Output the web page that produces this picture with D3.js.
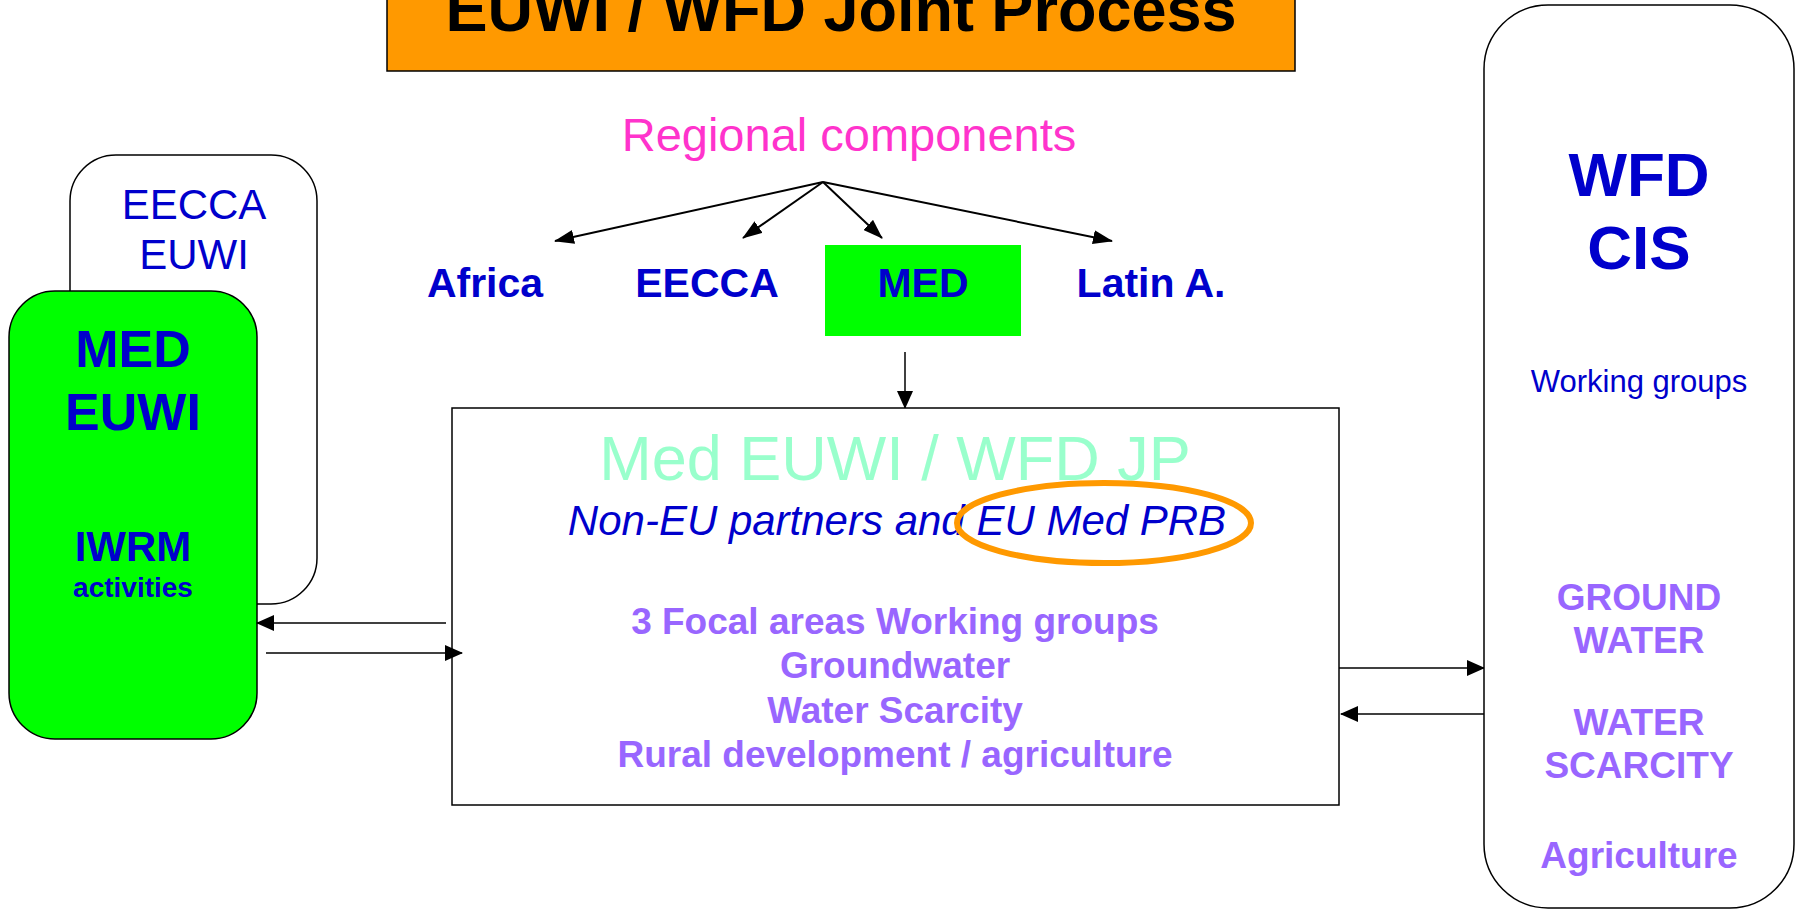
<!DOCTYPE html>
<html>
<head>
<meta charset="utf-8">
<script src="https://cdn.jsdelivr.net/npm/d3@7"></script>
<style>
  html, body { margin: 0; padding: 0; background: #fff; }
  text { font-family: "Liberation Sans", Arial, sans-serif; }
</style>
</head>
<body>
<div id="diagram"></div>
<script>
var svgWidth = 1797;
var svgHeight = 910;

// texts of the diagram
var titleText = 'EUWI / WFD Joint Process';
var regionalTitle = 'Regional components';
var regions = ['Africa', 'EECCA', 'MED', 'Latin A.'];
var highlightRegion = 'MED';
var backBoxLines = ['EECCA', 'EUWI'];
var medBoxLines = ['MED', 'EUWI'];
var medBoxSub = ['IWRM', 'activities'];
var jpTitle = 'Med EUWI / WFD JP';
var jpPartners = ['Non-EU partners and ', 'EU Med PRB'];
var focalAreas = ['3 Focal areas Working groups', 'Groundwater', 'Water Scarcity', 'Rural development / agriculture'];
var wfdTitle = ['WFD', 'CIS'];
var wfdSub = 'Working groups';
var wfdGroups = [['GROUND', 'WATER'], ['WATER', 'SCARCITY'], ['Agriculture']];

var blue = '#0000cc';
var purple = '#9966ff';

var svg = d3.select('#diagram')
    .append('svg')
    .attr('width', svgWidth)
    .attr('height', svgHeight);

svg.append('rect')
    .attr('width', svgWidth)
    .attr('height', svgHeight)
    .attr('fill', '#fff');

// arrow heads
var defs = svg.append('defs');
defs.append('marker')
    .attr('id', 'head')
    .attr('markerUnits', 'userSpaceOnUse')
    .attr('markerWidth', 20)
    .attr('markerHeight', 14)
    .attr('refX', 19)
    .attr('refY', 7)
    .attr('orient', 'auto')
    .append('path')
    .attr('d', 'M0,0 L20,7 L0,14 Z')
    .attr('fill', '#000');

defs.append('marker')
    .attr('id', 'headSmall')
    .attr('markerUnits', 'userSpaceOnUse')
    .attr('markerWidth', 18)
    .attr('markerHeight', 16)
    .attr('refX', 17)
    .attr('refY', 8)
    .attr('orient', 'auto')
    .append('path')
    .attr('d', 'M0,0 L18,8 L0,16 Z')
    .attr('fill', '#000');

// title box
svg.append('rect')
    .attr('x', 387).attr('y', -10)
    .attr('width', 908).attr('height', 81)
    .attr('fill', '#ff9900')
    .attr('stroke', '#000')
    .attr('stroke-width', 1.5);

svg.append('text')
    .attr('x', 841).attr('y', 31)
    .attr('text-anchor', 'middle')
    .attr('font-size', 63)
    .attr('font-weight', 'bold')
    .attr('fill', '#000')
    .text(titleText);

// EECCA EUWI back box
svg.append('rect')
    .attr('x', 70).attr('y', 155)
    .attr('width', 247).attr('height', 449)
    .attr('rx', 46).attr('ry', 46)
    .attr('fill', '#fff')
    .attr('stroke', '#000')
    .attr('stroke-width', 1.5);

svg.selectAll('.backText')
    .data(backBoxLines)
    .enter()
    .append('text')
    .classed('backText', true)
    .attr('x', 194)
    .attr('y', (d, i) => 219 + i * 50)
    .attr('text-anchor', 'middle')
    .attr('font-size', 42)
    .attr('fill', blue)
    .text(d => d);

// MED EUWI green box
svg.append('rect')
    .attr('x', 9).attr('y', 291)
    .attr('width', 248).attr('height', 448)
    .attr('rx', 46).attr('ry', 46)
    .attr('fill', '#00ff00')
    .attr('stroke', '#000')
    .attr('stroke-width', 1.5);

svg.selectAll('.medText')
    .data(medBoxLines)
    .enter()
    .append('text')
    .classed('medText', true)
    .attr('x', 133)
    .attr('y', (d, i) => 367 + i * 63)
    .attr('text-anchor', 'middle')
    .attr('font-size', 52)
    .attr('font-weight', 'bold')
    .attr('fill', blue)
    .text(d => d);

svg.selectAll('.medSub')
    .data(medBoxSub)
    .enter()
    .append('text')
    .classed('medSub', true)
    .attr('x', 133)
    .attr('y', (d, i) => i === 0 ? 561 : 597)
    .attr('text-anchor', 'middle')
    .attr('font-size', (d, i) => i === 0 ? 42 : 28)
    .attr('font-weight', 'bold')
    .attr('fill', blue)
    .text(d => d);

// regional components
svg.append('text')
    .attr('x', 849).attr('y', 151)
    .attr('text-anchor', 'middle')
    .attr('font-size', 47)
    .attr('fill', '#ff33cc')
    .text(regionalTitle);

var xRegion = d3.scalePoint()
    .domain(regions)
    .range([485, 1151]);

// arrow tips sit above the labels, fanned out from one origin
var tipX = d3.scalePoint()
    .domain(regions)
    .range([555, 1112]);

var fanOrigin = [823, 182];

// green highlight behind the MED label
svg.append('rect')
    .attr('x', 825)
    .attr('y', 245)
    .attr('width', 196).attr('height', 91)
    .attr('fill', '#00ff00');

svg.selectAll('.fan')
    .data(regions)
    .enter()
    .append('line')
    .classed('fan', true)
    .attr('x1', fanOrigin[0])
    .attr('y1', fanOrigin[1])
    .attr('x2', (d, i) => i === 0 || i === 3 ? tipX(d) : (i === 1 ? 743 : 882))
    .attr('y2', (d, i) => i === 0 || i === 3 ? 241 : 238)
    .attr('stroke', '#000')
    .attr('stroke-width', 2)
    .attr('marker-end', 'url(#head)');

svg.selectAll('.region')
    .data(regions)
    .enter()
    .append('text')
    .classed('region', true)
    .attr('x', d => d === highlightRegion ? 923 : xRegion(d))
    .attr('y', 297)
    .attr('text-anchor', 'middle')
    .attr('font-size', 41)
    .attr('font-weight', 'bold')
    .attr('fill', blue)
    .text(d => d);

// MED -> joint process
svg.append('line')
    .attr('x1', 905).attr('y1', 352)
    .attr('x2', 905).attr('y2', 408)
    .attr('stroke', '#000')
    .attr('stroke-width', 1.5)
    .attr('marker-end', 'url(#headSmall)');

// central box
svg.append('rect')
    .attr('x', 452).attr('y', 408)
    .attr('width', 887).attr('height', 397)
    .attr('fill', '#fff')
    .attr('stroke', '#000')
    .attr('stroke-width', 1.5);

svg.append('text')
    .attr('x', 895).attr('y', 480)
    .attr('text-anchor', 'middle')
    .attr('font-size', 63)
    .attr('fill', '#99ffcc')
    .text(jpTitle);

var partners = svg.append('text')
    .attr('x', 897).attr('y', 535)
    .attr('text-anchor', 'middle')
    .attr('font-size', 42)
    .attr('font-style', 'italic')
    .attr('fill', blue);

partners.selectAll('tspan')
    .data(jpPartners)
    .enter()
    .append('tspan')
    .text(d => d);

svg.append('ellipse')
    .attr('cx', 1104).attr('cy', 523)
    .attr('rx', 147).attr('ry', 40)
    .attr('fill', 'none')
    .attr('stroke', '#ff9900')
    .attr('stroke-width', 6);

var yFocal = d3.scaleLinear()
    .domain([0, focalAreas.length - 1])
    .range([634, 767]);

svg.selectAll('.focal')
    .data(focalAreas)
    .enter()
    .append('text')
    .classed('focal', true)
    .attr('x', 895)
    .attr('y', (d, i) => yFocal(i))
    .attr('text-anchor', 'middle')
    .attr('font-size', 37)
    .attr('font-weight', 'bold')
    .attr('fill', purple)
    .text(d => d);

// left exchange arrows
svg.append('line')
    .attr('x1', 446).attr('y1', 623)
    .attr('x2', 257).attr('y2', 623)
    .attr('stroke', '#000')
    .attr('stroke-width', 1.5)
    .attr('marker-end', 'url(#headSmall)');

svg.append('line')
    .attr('x1', 266).attr('y1', 653)
    .attr('x2', 462).attr('y2', 653)
    .attr('stroke', '#000')
    .attr('stroke-width', 1.5)
    .attr('marker-end', 'url(#headSmall)');

// right exchange arrows
svg.append('line')
    .attr('x1', 1339).attr('y1', 668)
    .attr('x2', 1484).attr('y2', 668)
    .attr('stroke', '#000')
    .attr('stroke-width', 1.5)
    .attr('marker-end', 'url(#headSmall)');

svg.append('line')
    .attr('x1', 1484).attr('y1', 714)
    .attr('x2', 1341).attr('y2', 714)
    .attr('stroke', '#000')
    .attr('stroke-width', 1.5)
    .attr('marker-end', 'url(#headSmall)');

// WFD CIS box
svg.append('rect')
    .attr('x', 1484).attr('y', 5)
    .attr('width', 310).attr('height', 903)
    .attr('rx', 64).attr('ry', 64)
    .attr('fill', '#fff')
    .attr('stroke', '#000')
    .attr('stroke-width', 1.5);

svg.selectAll('.wfdTitle')
    .data(wfdTitle)
    .enter()
    .append('text')
    .classed('wfdTitle', true)
    .attr('x', 1639)
    .attr('y', (d, i) => 196 + i * 73)
    .attr('text-anchor', 'middle')
    .attr('font-size', 62)
    .attr('font-weight', 'bold')
    .attr('fill', blue)
    .text(d => d);

svg.append('text')
    .attr('x', 1639).attr('y', 392)
    .attr('text-anchor', 'middle')
    .attr('font-size', 31)
    .attr('fill', blue)
    .text(wfdSub);

// group blocks: first line baselines
var groupTop = [610, 735, 868];
wfdGroups.forEach(function (lines, g) {
    svg.selectAll('.wfdGroup' + g)
        .data(lines)
        .enter()
        .append('text')
        .attr('x', 1639)
        .attr('y', (d, i) => groupTop[g] + i * 43)
        .attr('text-anchor', 'middle')
        .attr('font-size', 37)
        .attr('font-weight', 'bold')
        .attr('fill', purple)
        .text(d => d);
});
</script>
</body>
</html>
